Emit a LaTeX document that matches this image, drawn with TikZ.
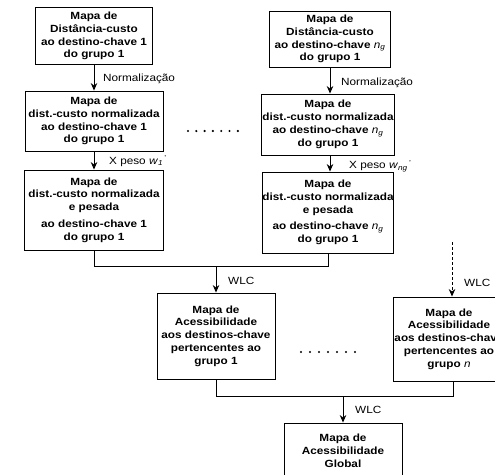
\documentclass[tikz,border=0pt]{standalone}
\usepackage{fontspec}
\setmainfont{Liberation Sans}[FakeStretch=1.13]
\usetikzlibrary{arrows.meta}
\begin{document}
\begin{tikzpicture}[x=1pt,y=-1pt,
  box/.style={draw, line width=0.9pt, align=center, inner sep=0pt,
    font=\fontsize{10.4}{12.8}\selectfont\bfseries},
  conn/.style={line width=0.9pt},
  arr/.style={line width=0.9pt, -{Stealth[length=7.5pt,width=6.5pt]}},
  lbl/.style={font=\fontsize{10.4}{12}\selectfont, anchor=west, inner sep=0pt},
  dotc/.style={fill=black}]
\useasboundingbox (0,0) rectangle (495,474);
\clip (0,0) rectangle (495,474);
% left column
\node[box, minimum width=117pt, minimum height=57pt] (a1) at (94,36)
  {Mapa de\\Distância-custo\\ao destino-chave 1\\do grupo 1};
\node[box, minimum width=138pt, minimum height=60pt] (b1) at (94,121)
  {Mapa de\\dist.-custo normalizada\\ao destino-chave 1\\do grupo 1};
\node[box, minimum width=139pt, minimum height=80pt] (c1) at (94,210)
  {Mapa de\\dist.-custo normalizada\\e pesada\\[4pt]ao destino-chave 1\\do grupo 1};
% right column
\node[box, minimum width=121pt, minimum height=56pt] (a2) at (330,39)
  {Mapa de\\Distância-custo\\ao destino-chave {\mdseries\itshape n\textsubscript{g}}\\do grupo 1};
\node[box, minimum width=133pt, minimum height=61pt] (b2) at (328,124.5)
  {Mapa de\\dist.-custo normalizada\\ao destino-chave {\mdseries\itshape n\textsubscript{g}}\\do grupo 1};
\node[box, minimum width=131pt, minimum height=81pt] (c2) at (328,212.5)
  {Mapa de\\dist.-custo normalizada\\e pesada\\[4pt]ao destino-chave {\mdseries\itshape n\textsubscript{g}}\\do grupo 1};
% accessibility maps
\node[box, minimum width=118pt, minimum height=86pt] (d1) at (216,336)
  {Mapa de\\Acessibilidade\\aos destinos-chave\\pertencentes ao\\grupo 1};
\node[box, minimum width=112pt, minimum height=84pt] (d2) at (449,339)
  {Mapa de\\Acessibilidade\\aos destinos-chave\\pertencentes ao\\grupo {\mdseries\itshape n}};
\node[box, minimum width=118pt, minimum height=56pt] (e) at (343,451)
  {Mapa de\\Acessibilidade\\Global};
% arrows in columns
\draw[arr] (a1) -- (b1);
\node[lbl] (n1) at (103,79) {Normalização};
\draw[arr] (b1) -- (c1);
\node[lbl] (p1) at (109,161) {X peso \textit{w}\textsubscript{\textit{1}}\textsuperscript{\,'}};
\draw[arr] (a2.south) -- (a2.south |- b2.north);
\node[lbl] (n2) at (341,83) {Normalização};
\draw[arr] (b2.south) ++(2pt,0) coordinate (b2s) -- (b2s |- c2.north);
\node[lbl] (p2) at (349,166) {X peso \textit{w}\textsubscript{\textit{ng}}\textsuperscript{\,'}};
% join 1
\coordinate (j1) at (216,266);
\draw[conn] (c1.south) -- (c1.south |- j1) -- (c2.south |- j1) -- (c2.south);
\draw[arr] (j1) -- (d1.north);
\node[lbl] (w1) at (228,281) {WLC};
\coordinate (ds) at (452,242);
\draw[arr, dash pattern=on 3pt off 2pt] (ds) -- (ds |- d2.north);
\node[lbl] (w2) at (464,283) {WLC};
% join 2
\coordinate (j2) at (343,396);
\coordinate (d2s) at ([xshift=4pt]d2.south);
\draw[conn] (d1.south) -- (d1.south |- j2) -- (d2s |- j2) -- (d2s);
\draw[arr] (j2) -- (e.north);
\node[lbl] (w3) at (355,410) {WLC};
% dots
\foreach \i in {0,...,6} \fill[dotc] (188+\i*8.3,131) circle (1.2pt);
\foreach \i in {0,...,6} \fill[dotc] (301+\i*9,352) circle (1.2pt);
\end{tikzpicture}
\end{document}
